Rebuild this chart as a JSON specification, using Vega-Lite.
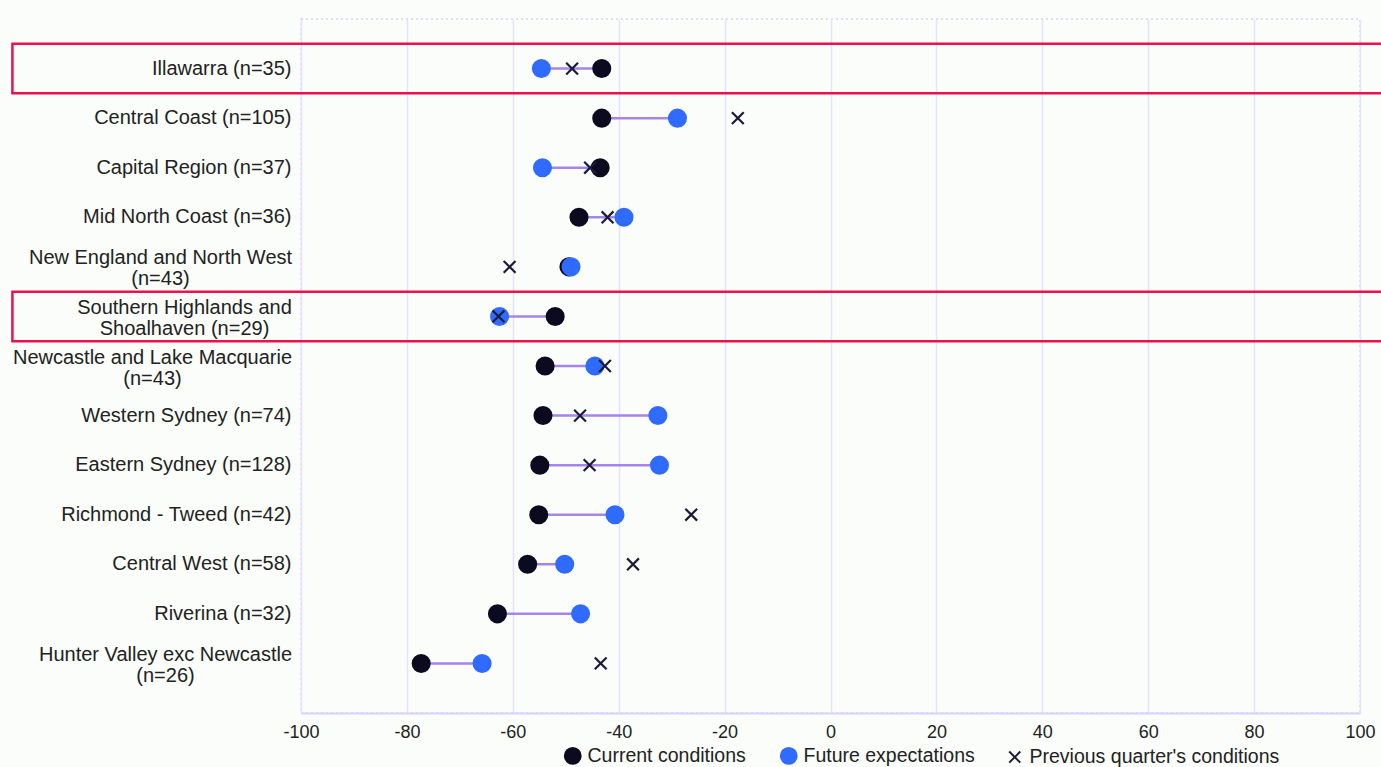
{
  "$schema": "https://vega.github.io/schema/vega-lite/v6.json",
  "width": 1059,
  "height": 694,
  "autosize": {"type": "none"},
  "padding": {"left": 301, "top": 19, "right": 21, "bottom": 54},
  "background": "#fafdf9",
  "config": {
    "font": "Liberation Sans",
    "view": {"stroke": "#dccff5", "strokeDash": [2, 3], "strokeWidth": 1.5},
    "axisX": {
      "labelFontSize": 18,
      "labelColor": "#222222",
      "labelPadding": 10,
      "ticks": false,
      "domainColor": "#ddd0ff",
      "domainWidth": 2,
      "gridColor": "#e9e0ff",
      "gridWidth": 1.5,
      "labelFlush": false
    },
    "axisY": {
      "labelFontSize": 20,
      "labelColor": "#222222",
      "labelLineHeight": 21,
      "labelLimit": 0,
      "ticks": false,
      "domain": false,
      "gridColor": "#dccff5",
      "gridDash": [2, 3],
      "gridWidth": 1.5
    },
    "legend": {"labelLimit": 0}
  },
  "datasets": {
    "regions": [
      {"region": "Illawarra (n=35)", "current": -43.2, "future": -54.6, "previous": -48.8},
      {"region": "Central Coast (n=105)", "current": -43.2, "future": -28.9, "previous": -17.5},
      {"region": "Capital Region (n=37)", "current": -43.5, "future": -54.4, "previous": -45.4},
      {"region": "Mid North Coast (n=36)", "current": -47.5, "future": -39.0, "previous": -42.1},
      {"region": "New England and North West\n(n=43)", "current": -49.4, "future": -49.0, "previous": -60.6},
      {"region": "Southern Highlands and\nShoalhaven (n=29)", "current": -52.0, "future": -62.5, "previous": -62.7},
      {"region": "Newcastle and Lake Macquarie\n(n=43)", "current": -53.9, "future": -44.5, "previous": -42.6},
      {"region": "Western Sydney (n=74)", "current": -54.3, "future": -32.6, "previous": -47.3},
      {"region": "Eastern Sydney (n=128)", "current": -54.9, "future": -32.3, "previous": -45.5},
      {"region": "Richmond - Tweed (n=42)", "current": -55.1, "future": -40.7, "previous": -26.3},
      {"region": "Central West (n=58)", "current": -57.2, "future": -50.2, "previous": -37.3},
      {"region": "Riverina (n=32)", "current": -62.9, "future": -47.2, "previous": null},
      {"region": "Hunter Valley exc Newcastle\n(n=26)", "current": -77.3, "future": -65.8, "previous": -43.4}
    ],
    "highlight": [
      {"region": "Illawarra (n=35)"},
      {"region": "Southern Highlands and\nShoalhaven (n=29)"}
    ]
  },
  "layer": [
    {
      "data": {"name": "regions"},
      "mark": {"type": "rule", "color": "#a585ea", "strokeWidth": 2.5},
      "encoding": {
        "x": {"field": "current", "type": "quantitative", "scale": {"domain": [-100, 100], "nice": false, "zero": false}, "axis": {"title": null, "values": [-100, -80, -60, -40, -20, 0, 20, 40, 60, 80, 100], "labelExpr": "'' + datum.value"}},
        "x2": {"field": "future"},
        "y": {"field": "region", "type": "nominal", "sort": null,
          "scale": {"type": "band", "paddingInner": 0, "paddingOuter": 0.5, "domain": ["Illawarra (n=35)", "Central Coast (n=105)", "Capital Region (n=37)", "Mid North Coast (n=36)", "New England and North West\n(n=43)", "Southern Highlands and\nShoalhaven (n=29)", "Newcastle and Lake Macquarie\n(n=43)", "Western Sydney (n=74)", "Eastern Sydney (n=128)", "Richmond - Tweed (n=42)", "Central West (n=58)", "Riverina (n=32)", "Hunter Valley exc Newcastle\n(n=26)"]},
          "axis": {"title": null, "bandPosition": 0.5,
            "labelExpr": "indexof(datum.label, '\\n') < 0 ? datum.label : split(datum.label, '\\n')",
            "labelAlign": {"condition": {"test": "indexof(datum.value, '\\n') >= 0", "value": "center"}, "value": "right"},
            "labelOffset": {"condition": {"test": "indexof(datum.value, '\\n') >= 0", "value": -8.5}, "value": 0},
            "labelPadding": {"condition": [
              {"test": "indexof(datum.value, 'New England') >= 0", "value": 141},
              {"test": "indexof(datum.value, 'Southern Highlands') >= 0", "value": 117},
              {"test": "indexof(datum.value, 'Newcastle and Lake') >= 0", "value": 149},
              {"test": "indexof(datum.value, 'Hunter Valley') >= 0", "value": 136}
            ], "value": 10}}}
      }
    },
    {
      "data": {"name": "regions"},
      "transform": [
        {"fold": ["current", "future", "previous"], "as": ["series", "value"]},
        {"filter": "isValid(datum.value)"}
      ],
      "mark": {"type": "point", "filled": true, "size": 285, "strokeWidth": 2.2, "opacity": 1},
      "encoding": {
        "x": {"field": "value", "type": "quantitative", "scale": {"domain": [-100, 100], "nice": false, "zero": false}, "axis": {"title": null, "values": [-100, -80, -60, -40, -20, 0, 20, 40, 60, 80, 100], "labelExpr": "'' + datum.value"}},
        "y": {"field": "region", "type": "nominal", "sort": null,
          "scale": {"type": "band", "paddingInner": 0, "paddingOuter": 0.5, "domain": ["Illawarra (n=35)", "Central Coast (n=105)", "Capital Region (n=37)", "Mid North Coast (n=36)", "New England and North West\n(n=43)", "Southern Highlands and\nShoalhaven (n=29)", "Newcastle and Lake Macquarie\n(n=43)", "Western Sydney (n=74)", "Eastern Sydney (n=128)", "Richmond - Tweed (n=42)", "Central West (n=58)", "Riverina (n=32)", "Hunter Valley exc Newcastle\n(n=26)"]},
          "axis": {"title": null, "bandPosition": 0.5,
            "labelExpr": "indexof(datum.label, '\\n') < 0 ? datum.label : split(datum.label, '\\n')",
            "labelAlign": {"condition": {"test": "indexof(datum.value, '\\n') >= 0", "value": "center"}, "value": "right"},
            "labelOffset": {"condition": {"test": "indexof(datum.value, '\\n') >= 0", "value": -8.5}, "value": 0},
            "labelPadding": {"condition": [
              {"test": "indexof(datum.value, 'New England') >= 0", "value": 141},
              {"test": "indexof(datum.value, 'Southern Highlands') >= 0", "value": 117},
              {"test": "indexof(datum.value, 'Newcastle and Lake') >= 0", "value": 149},
              {"test": "indexof(datum.value, 'Hunter Valley') >= 0", "value": 136}
            ], "value": 10}}},
        "fill": {"field": "series", "type": "nominal",
          "scale": {"domain": ["current", "future", "previous"], "range": ["#0c0a1f", "#2f6bff", "#1c1a3a"]},
          "legend": {"title": null, "orient": "none", "direction": "horizontal", "legendX": 262, "legendY": 727, "symbolSize": 250, "labelFontSize": 19.5, "labelColor": "#222222", "labelOffset": 5, "labelLimit": 0, "columnPadding": 30, "symbolStrokeWidth": 2, "labelExpr": "datum.label == 'current' ? 'Current conditions' : datum.label == 'future' ? 'Future expectations' : 'Previous quarter\\'s conditions'"}},
        "stroke": {"field": "series", "type": "nominal",
          "scale": {"domain": ["current", "future", "previous"], "range": ["#0c0a1f", "#2f6bff", "#1c1a3a"]},
          "legend": {"title": null, "orient": "none", "direction": "horizontal", "legendX": 262, "legendY": 727, "symbolSize": 250, "labelFontSize": 19.5, "labelColor": "#222222", "labelOffset": 5, "labelLimit": 0, "columnPadding": 30, "symbolStrokeWidth": 2, "labelExpr": "datum.label == 'current' ? 'Current conditions' : datum.label == 'future' ? 'Future expectations' : 'Previous quarter\\'s conditions'"}},
        "shape": {"field": "series", "type": "nominal",
          "scale": {"domain": ["current", "future", "previous"], "range": ["circle", "circle", "M-0.7,-0.7L0.7,0.7M-0.7,0.7L0.7,-0.7"]},
          "legend": {"title": null, "orient": "none", "direction": "horizontal", "legendX": 262, "legendY": 727, "symbolSize": 250, "labelFontSize": 19.5, "labelColor": "#222222", "labelOffset": 5, "labelLimit": 0, "columnPadding": 30, "symbolStrokeWidth": 2, "labelExpr": "datum.label == 'current' ? 'Current conditions' : datum.label == 'future' ? 'Future expectations' : 'Previous quarter\\'s conditions'"}}
      }
    },
    {
      "data": {"name": "highlight"},
      "mark": {"type": "rect", "fill": null, "fillOpacity": 0, "stroke": "#e8124c", "strokeWidth": 2.5, "clip": false},
      "encoding": {
        "x": {"datum": -154.5, "type": "quantitative", "scale": {"domain": [-100, 100], "nice": false, "zero": false}, "axis": {"title": null, "values": [-100, -80, -60, -40, -20, 0, 20, 40, 60, 80, 100], "labelExpr": "'' + datum.value"}},
        "x2": {"datum": 106},
        "y": {"field": "region", "type": "nominal", "sort": null,
          "scale": {"type": "band", "paddingInner": 0, "paddingOuter": 0.5, "domain": ["Illawarra (n=35)", "Central Coast (n=105)", "Capital Region (n=37)", "Mid North Coast (n=36)", "New England and North West\n(n=43)", "Southern Highlands and\nShoalhaven (n=29)", "Newcastle and Lake Macquarie\n(n=43)", "Western Sydney (n=74)", "Eastern Sydney (n=128)", "Richmond - Tweed (n=42)", "Central West (n=58)", "Riverina (n=32)", "Hunter Valley exc Newcastle\n(n=26)"]},
          "axis": {"title": null, "bandPosition": 0.5,
            "labelExpr": "indexof(datum.label, '\\n') < 0 ? datum.label : split(datum.label, '\\n')",
            "labelAlign": {"condition": {"test": "indexof(datum.value, '\\n') >= 0", "value": "center"}, "value": "right"},
            "labelOffset": {"condition": {"test": "indexof(datum.value, '\\n') >= 0", "value": -8.5}, "value": 0},
            "labelPadding": {"condition": [
              {"test": "indexof(datum.value, 'New England') >= 0", "value": 141},
              {"test": "indexof(datum.value, 'Southern Highlands') >= 0", "value": 117},
              {"test": "indexof(datum.value, 'Newcastle and Lake') >= 0", "value": 149},
              {"test": "indexof(datum.value, 'Hunter Valley') >= 0", "value": 136}
            ], "value": 10}}}
      }
    }
  ]
}
